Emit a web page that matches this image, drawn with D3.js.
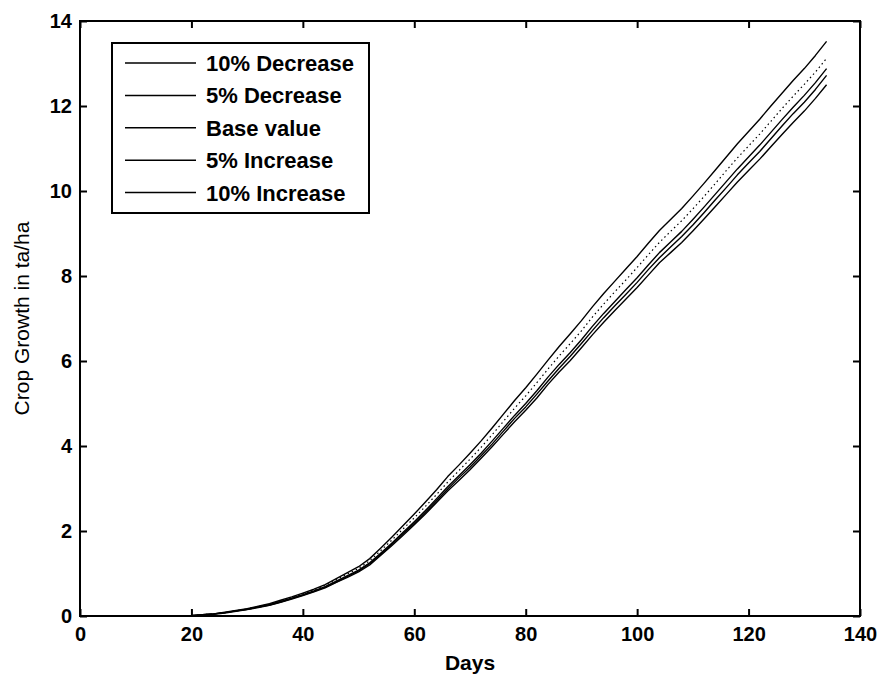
<!DOCTYPE html>
<html>
<head>
<meta charset="utf-8">
<script src="https://cdn.jsdelivr.net/npm/d3@7"></script>
<style>
  body { margin: 0; background: #fff; }
  svg { display: block; font-family: "Liberation Sans", Arial, sans-serif; }
</style>
</head>
<body>
<div class="chart"></div>
<script>
// data (days step 2, 0..134)
const days = d3.range(0, 135, 2);

const dec10 = [0,0,0,0,0,0,0,0,0,0,
  0.01,0.02,0.04,0.07,0.11,0.15,0.20,0.25,0.32,0.40,
  0.48,0.57,0.66,0.79,0.91,1.04,1.20,1.43,1.66,1.90,
  2.15,2.40,2.67,2.94,3.19,3.44,3.71,3.99,4.28,4.57,
  4.84,5.13,5.45,5.74,6.01,6.31,6.62,6.91,7.19,7.46,
  7.73,8.02,8.31,8.55,8.79,9.06,9.34,9.63,9.92,10.21,
  10.48,10.75,11.04,11.33,11.61,11.88,12.18,12.50];

const dec5 = [0,0,0,0,0,0,0,0,0,0,
  0.01,0.03,0.05,0.08,0.12,0.16,0.21,0.26,0.33,0.41,
  0.49,0.58,0.68,0.80,0.93,1.06,1.23,1.45,1.69,1.94,
  2.18,2.44,2.71,2.99,3.25,3.50,3.77,4.05,4.35,4.65,
  4.92,5.22,5.53,5.83,6.11,6.41,6.72,7.02,7.30,7.57,
  7.85,8.15,8.43,8.68,8.93,9.20,9.49,9.79,10.08,10.38,
  10.66,10.93,11.23,11.53,11.82,12.09,12.39,12.72];

const base = [0,0,0,0,0,0,0,0,0,0,
  0.01,0.03,0.05,0.08,0.12,0.16,0.21,0.27,0.34,0.42,
  0.50,0.59,0.69,0.82,0.95,1.08,1.25,1.48,1.72,1.97,
  2.22,2.48,2.76,3.04,3.30,3.56,3.83,4.12,4.42,4.72,
  5.00,5.30,5.62,5.92,6.20,6.50,6.82,7.12,7.40,7.68,
  7.96,8.26,8.55,8.80,9.05,9.33,9.62,9.92,10.22,10.52,
  10.80,11.08,11.38,11.68,11.97,12.25,12.55,12.88];

const inc5 = [0,0,0,0,0,0,0,0,0,0,
  0.01,0.03,0.05,0.08,0.12,0.17,0.22,0.28,0.35,0.43,
  0.52,0.61,0.72,0.85,0.99,1.12,1.30,1.54,1.79,2.05,
  2.31,2.58,2.86,3.15,3.42,3.69,3.97,4.27,4.58,4.89,
  5.18,5.49,5.81,6.12,6.41,6.71,7.04,7.34,7.63,7.91,
  8.20,8.50,8.79,9.05,9.30,9.58,9.87,10.17,10.48,10.78,
  11.06,11.34,11.64,11.94,12.23,12.51,12.80,13.12];

const inc10 = [0,0,0,0,0,0,0,0,0,0,
  0.01,0.03,0.05,0.09,0.13,0.17,0.23,0.29,0.37,0.45,
  0.54,0.63,0.74,0.88,1.02,1.16,1.35,1.60,1.86,2.13,
  2.40,2.68,2.97,3.28,3.55,3.83,4.12,4.43,4.75,5.07,
  5.37,5.69,6.02,6.34,6.64,6.95,7.28,7.59,7.88,8.17,
  8.46,8.77,9.07,9.33,9.59,9.88,10.18,10.49,10.80,11.11,
  11.40,11.69,12.00,12.30,12.60,12.88,13.19,13.52];

const seriesNames = ["10% Decrease", "5% Decrease", "Base value", "5% Increase", "10% Increase"];
const seriesValues = [dec10, dec5, base, inc5, inc10];
const xTicks = [0, 20, 40, 60, 80, 100, 120, 140];
const yTicks = [0, 2, 4, 6, 8, 10, 12, 14];

// layout
const width = 882, height = 681;
const margin = { top: 21, right: 22, bottom: 65, left: 80 };

const svg = d3.select(".chart").append("svg")
  .attr("width", width)
  .attr("height", height);

const x = d3.scaleLinear()
  .domain([0, 140])
  .range([margin.left, width - margin.right]);

const y = d3.scaleLinear()
  .domain([0, 14])
  .range([height - margin.bottom, margin.top]);

const tick = 7;

// axes, MATLAB style: ticks pointing inward on all four sides
svg.append("g")
  .attr("transform", `translate(0,${height - margin.bottom})`)
  .call(d3.axisBottom(x).tickValues(xTicks).tickSize(-tick).tickPadding(11))
  .call(g => g.selectAll("text").attr("font-size", 20).attr("font-weight", "bold").attr("fill", "#000"));

svg.append("g")
  .attr("transform", `translate(${margin.left},0)`)
  .call(d3.axisLeft(y).tickValues(yTicks).tickSize(-tick).tickPadding(8))
  .call(g => g.selectAll("text").attr("font-size", 20).attr("font-weight", "bold").attr("fill", "#000"));

svg.append("g")
  .attr("transform", `translate(0,${margin.top})`)
  .call(d3.axisTop(x).tickValues(xTicks).tickSize(-tick).tickFormat(""));

svg.append("g")
  .attr("transform", `translate(${width - margin.right},0)`)
  .call(d3.axisRight(y).tickValues(yTicks).tickSize(-tick).tickFormat(""));

svg.selectAll(".domain").remove();
svg.selectAll(".tick line").attr("stroke", "#000").attr("stroke-width", 2);

// lines
const line = d3.line()
  .x((d, i) => x(days[i]))
  .y(d => y(d));

svg.append("g")
  .attr("fill", "none")
  .attr("stroke", "#000")
  .attr("stroke-linejoin", "round")
  .selectAll("path")
  .data(seriesValues)
  .join("path")
  .attr("d", d => line(d))
  .attr("stroke-width", (d, i) => i === 3 ? 1.2 : 1.4)
  .attr("stroke-dasharray", (d, i) => i === 3 ? "1.5,3" : null);

// frame
svg.append("rect")
  .attr("x", margin.left)
  .attr("y", margin.top)
  .attr("width", width - margin.left - margin.right)
  .attr("height", height - margin.top - margin.bottom)
  .attr("fill", "none")
  .attr("stroke", "#000")
  .attr("stroke-width", 2);

// axis labels
svg.append("text")
  .attr("x", (margin.left + width - margin.right) / 2)
  .attr("y", 670)
  .attr("text-anchor", "middle")
  .attr("font-size", 21)
  .attr("font-weight", "bold")
  .text("Days");

svg.append("text")
  .attr("transform", `translate(29,${(margin.top + height - margin.bottom) / 2}) rotate(-90)`)
  .attr("text-anchor", "middle")
  .attr("font-size", 21)
  .text("Crop Growth in ta/ha");

// legend
const legend = svg.append("g");
legend.append("rect")
  .attr("x", 112).attr("y", 43)
  .attr("width", 257).attr("height", 170)
  .attr("fill", "#fff")
  .attr("stroke", "#000")
  .attr("stroke-width", 2);

const rows = legend.selectAll("g.row")
  .data(seriesNames)
  .join("g")
  .attr("class", "row")
  .attr("transform", (d, i) => `translate(0,${63 + i * 32.4})`);

rows.append("line")
  .attr("x1", 125).attr("x2", 196)
  .attr("stroke", "#000")
  .attr("stroke-width", 1.5);

rows.append("text")
  .attr("x", 206)
  .attr("dy", "0.36em")
  .attr("font-size", 22)
  .attr("font-weight", "bold")
  .text(d => d);
</script>
</body>
</html>
